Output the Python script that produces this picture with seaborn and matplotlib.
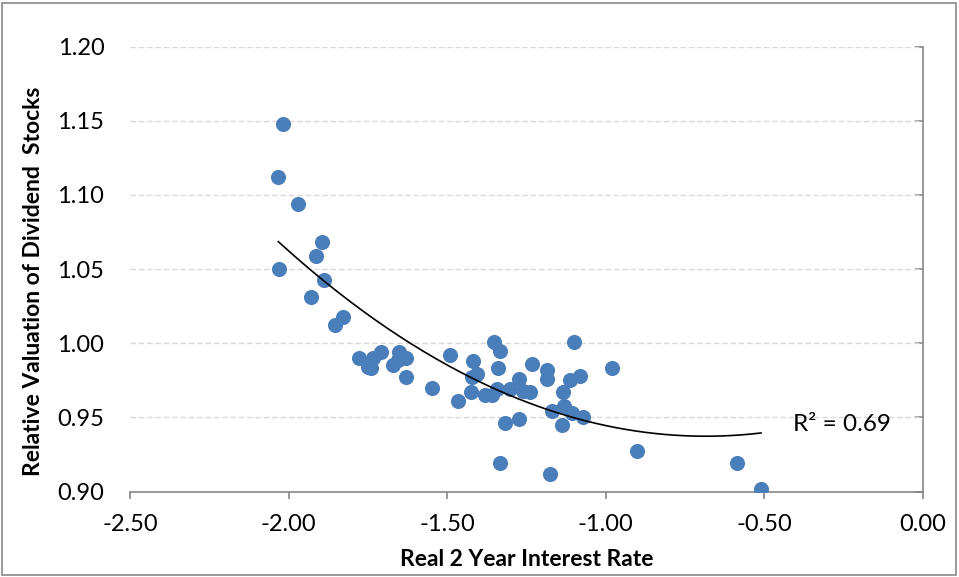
import matplotlib

matplotlib.use("Agg")

import matplotlib.pyplot as plt
import numpy as np
import pandas as pd
import seaborn as sns
from matplotlib.patches import Rectangle

# real 2 year rate vs relative valuation
rate = [
    -2.017, -2.033, -1.970, -1.894, -1.914, -2.029, -1.888, -1.930, -1.829, -1.854,
    -1.778, -1.733, -1.709, -1.741, -1.749, -1.651, -1.631, -1.670, -1.654, -1.630,
    -1.549, -1.491, -1.467, -1.418, -1.405, -1.423, -1.426, -1.381, -1.360, -1.352,
    -1.334, -1.339, -1.342, -1.317, -1.333, -1.302, -1.273, -1.260, -1.239, -1.273,
    -1.234, -1.185, -1.186, -1.136, -1.113, -1.081, -1.100, -1.170, -1.133, -1.107,
    -1.071, -1.138, -1.175, -0.979, -0.901, -0.586, -0.510,
]
valuation = [
    1.148, 1.112, 1.094, 1.068, 1.059, 1.050, 1.0425, 1.031, 1.018, 1.012,
    0.990, 0.990, 0.994, 0.983, 0.984, 0.994, 0.990, 0.985, 0.989, 0.977,
    0.970, 0.992, 0.961, 0.988, 0.979, 0.977, 0.967, 0.965, 0.965, 1.001,
    0.995, 0.983, 0.969, 0.946, 0.919, 0.969, 0.976, 0.968, 0.967, 0.949,
    0.986, 0.982, 0.976, 0.967, 0.975, 0.978, 1.001, 0.954, 0.958, 0.953,
    0.950, 0.945, 0.912, 0.983, 0.927, 0.919, 0.9015,
]
x_ticks = [-2.5, -2.0, -1.5, -1.0, -0.5, 0.0]
y_ticks = [0.90, 0.95, 1.00, 1.05, 1.10, 1.15, 1.20]
r2_label = "R\u00b2 = 0.69"

df = pd.DataFrame({"rate": rate, "valuation": valuation})

sns.set_theme(style="white")
plt.rcParams["font.family"] = ["Lato", "DejaVu Sans"]
plt.rcParams["text.color"] = "black"
plt.rcParams["axes.labelcolor"] = "black"

fig = plt.figure(figsize=(9.59, 5.77), dpi=100)
ax = fig.add_axes([130 / 959, 1 - 491.5 / 577, (923 - 130) / 959, (491.5 - 46.7) / 577])

sns.scatterplot(data=df, x="rate", y="valuation", ax=ax, color="#4a7ebb",
                s=118, linewidth=0, zorder=3)

# excel style 2nd order trendline
coef = np.polyfit(df["rate"], df["valuation"], 2)
xs = np.linspace(df["rate"].min(), df["rate"].max(), 200)
ax.plot(xs, np.polyval(coef, xs), color="black", lw=1.2, zorder=4)
ax.text(-0.41, 0.9455, r2_label, fontsize=17.5, va="center", ha="left")

ax.set_xlim(-2.5, 0.0)
ax.set_ylim(0.90, 1.20)
ax.set_xticks(x_ticks)
ax.set_yticks(y_ticks)
ax.set_xticklabels([f"{v:.2f}" for v in x_ticks])
ax.set_yticklabels([f"{v:.2f}" for v in y_ticks])

for y in y_ticks[1:]:
    ax.axhline(y, color="#d9d9d9", lw=1, ls=(0, (4, 2)), zorder=1)

for side in ["left", "top"]:
    ax.spines[side].set_visible(False)
for side in ["right", "bottom"]:
    ax.spines[side].set_color("#868686")
    ax.spines[side].set_linewidth(1.2)

ax.tick_params(axis="y", left=False, right=True, labelleft=True, labelright=False,
               direction="in", length=6, width=1.2, color="#868686",
               labelcolor="black", labelsize=17, pad=18.5)
ax.tick_params(axis="x", bottom=True, direction="out", length=5, width=1.2,
               color="#868686", labelcolor="black", labelsize=17, pad=11)

ax.set_xlabel("Real 2 Year Interest Rate", fontsize=16.5, fontweight="bold", labelpad=10)
ax.set_ylabel("Relative Valuation of Dividend  Stocks", fontsize=16.5, fontweight="bold")
ax.yaxis.set_label_coords(-0.1085, 0.472)

fig.patches.append(Rectangle((0.002, 0.003), 0.995, 0.992, transform=fig.transFigure,
                             fill=False, edgecolor="#898989", lw=1.2))

fig.savefig("out.png", dpi=100)
plt.close(fig)
